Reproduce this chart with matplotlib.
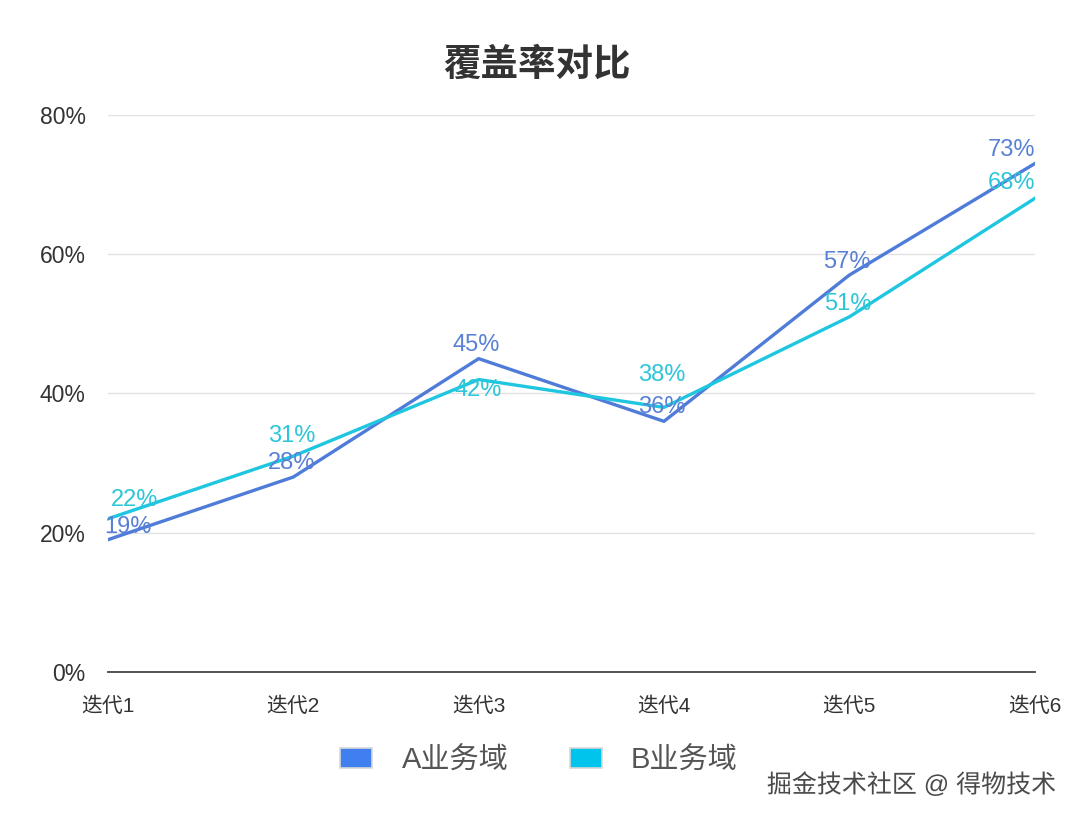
import matplotlib
matplotlib.use("Agg")
import matplotlib.pyplot as plt
import matplotlib.ticker as ticker
import matplotlib.patheffects as pe
from matplotlib.patches import Patch

plt.rcParams["font.family"] = ["Liberation Sans", "Noto Sans CJK SC", "DejaVu Sans"]

# ── Datos ────────────────────────────────────────────────
categorias = ["迭代1", "迭代2", "迭代3", "迭代4", "迭代5", "迭代6"]
serie_a = [19, 28, 45, 36, 57, 73]
serie_b = [22, 31, 42, 38, 51, 68]
nombres = ["A业务域", "B业务域"]
titulo = "覆盖率对比"
marca = "掘金技术社区 @ 得物技术"

# ── Paleta ───────────────────────────────────────────────
LINEA_A = "#4f7bd9"
LINEA_B = "#1ec6e0"
TXT_A = "#5a80d6"
TXT_B = "#2cc6d8"
CAJA_A = "#3f7ff0"
CAJA_B = "#00c4ec"
GRID = "#e2e2e2"
FG = "#333333"

# desplazamientos de etiquetas (pixeles)
off_a = [(20, 13), (-2, 14), (-2, 14), (-2, 14), (-2, 13), (-23, 14)]
off_b = [(27, 19), (-2, 20), (0, -10), (-2, 32), (-2, 13), (-23, 15)]

fig = plt.figure(figsize=(10.8, 8.21), dpi=100)
fig.patch.set_facecolor("white")
ax = fig.add_axes([0.1, 0.1815, 0.858, 0.6785])

x = list(range(len(categorias)))
ax.plot(x, serie_a, color=LINEA_A, lw=2.4, zorder=3, solid_joinstyle="round")
ax.plot(x, serie_b, color=LINEA_B, lw=2.4, zorder=3, solid_joinstyle="round")

for xi, v, (dx, dy) in zip(x, serie_a, off_a):
    ax.annotate(f"{v}%", (xi, v), xytext=(dx, dy), textcoords="offset pixels",
                ha="center", va="center", fontsize=17, color=TXT_A, zorder=4,
                annotation_clip=False)
for xi, v, (dx, dy) in zip(x, serie_b, off_b):
    ax.annotate(f"{v}%", (xi, v), xytext=(dx, dy), textcoords="offset pixels",
                ha="center", va="center", fontsize=17, color=TXT_B, zorder=4,
                annotation_clip=False)

ax.set_xlim(0, len(categorias) - 1)
ax.set_ylim(0, 80)
ax.set_yticks([0, 20, 40, 60, 80])
ax.yaxis.set_major_formatter(ticker.FuncFormatter(lambda v, _: f"{v:.0f}%"))
ax.set_xticks(x)
ax.set_xticklabels(categorias)
ax.tick_params(axis="both", length=0, colors=FG)
ax.tick_params(axis="y", pad=16, labelsize=16.5)
ax.tick_params(axis="x", pad=18, labelsize=15)
ax.grid(axis="y", color=GRID, lw=1, zorder=0)
for s in ["top", "right", "left"]:
    ax.spines[s].set_visible(False)
ax.spines["bottom"].set_color("#444444")
ax.spines["bottom"].set_linewidth(1.3)

fig.text(0.497, 0.92, titulo, ha="center", va="center", fontsize=27,
         fontweight="bold", color=FG)

handles = [Patch(facecolor=CAJA_A, edgecolor="#d8d8d8", lw=1.2, label=nombres[0]),
           Patch(facecolor=CAJA_B, edgecolor="#d8d8d8", lw=1.2, label=nombres[1])]
fig.legend(handles=handles, loc="center", bbox_to_anchor=(0.499, 0.074), ncol=2,
           frameon=False, fontsize=21, handlelength=1.1, handleheight=0.7,
           handletextpad=1.0, columnspacing=2.1, labelcolor="#555555")

fig.text(0.978, 0.044, marca, ha="right", va="center", fontsize=18,
         color="#4a4a4a",
         path_effects=[pe.withStroke(linewidth=3, foreground="white")])

fig.savefig("out.png", dpi=100, facecolor="white")
